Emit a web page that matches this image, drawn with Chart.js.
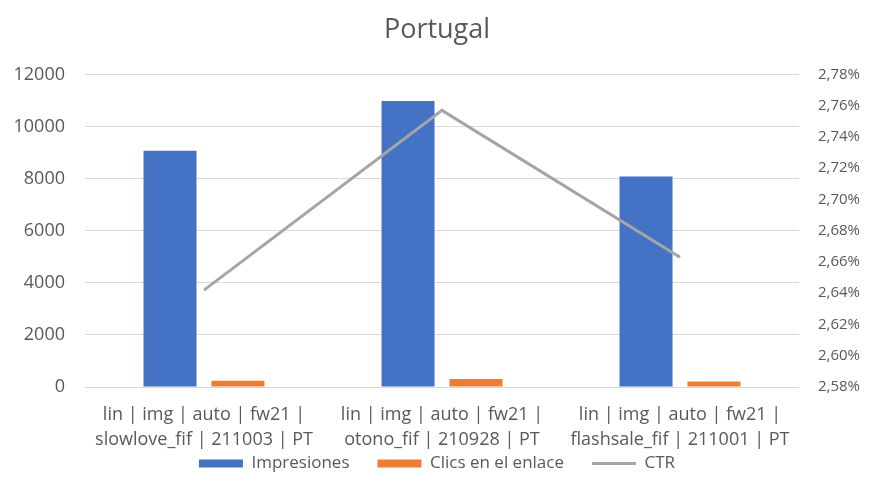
<!DOCTYPE html>
<html>
<head>
<meta charset="utf-8">
<script src="https://cdn.jsdelivr.net/npm/chart.js@4/dist/chart.umd.min.js"></script>
<style>
  html, body { margin: 0; padding: 0; background: #ffffff; }
  #wrap { width: 874px; height: 496px; position: relative; }
</style>
</head>
<body>
<div id="wrap"><canvas id="chart"></canvas></div>
<script>
// Campaign labels (two lines each)
const categories = [
  ['lin | img | auto | fw21 |', 'slowlove_fif | 211003 | PT'],
  ['lin | img | auto | fw21 |', 'otono_fif | 210928 | PT'],
  ['lin | img | auto | fw21 |', 'flashsale_fif | 211001 | PT']
];
const impresiones = [9070, 10980, 8080];
const clics = [240, 303, 215];
const ctr = [2.642, 2.757, 2.663];   // percent

const leftTicks = { min: 0, max: 12000, step: 2000 };
const rightTicks = { min: 2.58, max: 2.78, step: 0.02 };

const textColor = '#595959';
const fontFamily = '"Open Sans", "Noto Sans", sans-serif';

// The category axis is kept short so the plot keeps its height;
// after layout its label clip box is extended down to the legend.
const xLabelRoom = {
  id: 'xLabelRoom',
  afterLayout(chart) {
    const x = chart.scales.x;
    x.bottom = x.top + 70;
  }
};

new Chart(document.getElementById('chart'), {
  type: 'bar',
  plugins: [xLabelRoom],
  data: {
    labels: categories,
    datasets: [
      {
        label: 'Impresiones',
        data: impresiones,
        backgroundColor: '#4472C4',
        yAxisID: 'y',
        order: 1,
        categoryPercentage: 0.571,
        barPercentage: 0.78
      },
      {
        label: 'Clics en el enlace',
        data: clics,
        backgroundColor: '#ED7D31',
        yAxisID: 'y',
        order: 1,
        categoryPercentage: 0.571,
        barPercentage: 0.78
      },
      {
        type: 'line',
        label: 'CTR',
        data: ctr,
        borderColor: '#A5A5A5',
        backgroundColor: '#A5A5A5',
        borderWidth: 3,
        pointRadius: 0,
        tension: 0,
        yAxisID: 'y1',
        order: 0
      }
    ]
  },
  options: {
    responsive: true,
    maintainAspectRatio: false,
    animation: false,
    devicePixelRatio: 1,
    layout: { padding: { left: 0, right: 0, top: 0, bottom: 14 } },
    plugins: {
      tooltip: { enabled: false },
      title: {
        display: true,
        text: 'Portugal',
        color: textColor,
        font: { family: fontFamily, size: 27, weight: 'normal' },
        padding: { top: 14, bottom: 28 }
      },
      legend: {
        position: 'bottom',
        labels: {
          color: textColor,
          font: { family: fontFamily, size: 17 },
          usePointStyle: true,
          pointStyleWidth: 44,
          boxHeight: 8,
          padding: 28,
          sort: (a, b) => a.datasetIndex - b.datasetIndex,
          generateLabels(chart) {
            const items = Chart.defaults.plugins.legend.labels.generateLabels(chart);
            items.forEach(it => {
              const ds = chart.data.datasets[it.datasetIndex];
              if (ds.type === 'line') {
                it.pointStyle = 'line';
                it.strokeStyle = ds.borderColor;
                it.lineWidth = 3;
              } else {
                it.pointStyle = 'rect';
                it.lineWidth = 0;
                it.strokeStyle = ds.backgroundColor;
              }
            });
            return items;
          }
        }
      }
    },
    scales: {
      x: {
        grid: { display: false },
        border: { display: false },
        ticks: {
          color: textColor,
          font: { family: fontFamily, size: 18, lineHeight: 1.4 },
          padding: 7,
          maxRotation: 0,
          autoSkip: false
        },
        afterFit(scale) { scale.height = 40; }
      },
      y: {
        position: 'left',
        min: leftTicks.min,
        max: leftTicks.max,
        grid: { color: '#D9D9D9', lineWidth: 1, drawTicks: false },
        border: { display: false },
        ticks: {
          stepSize: leftTicks.step,
          color: textColor,
          font: { family: fontFamily, size: 18 },
          padding: 20,
          callback: v => String(v)
        },
        afterFit(scale) { scale.width = 85; }
      },
      y1: {
        position: 'right',
        min: rightTicks.min,
        max: rightTicks.max,
        grid: { display: false, drawTicks: false },
        border: { display: false },
        ticks: {
          stepSize: rightTicks.step,
          color: textColor,
          font: { family: fontFamily, size: 15 },
          padding: 19,
          callback: v => v.toFixed(2).replace('.', ',') + '%'
        },
        afterFit(scale) { scale.width = 75; }
      }
    }
  }
});
</script>
</body>
</html>
